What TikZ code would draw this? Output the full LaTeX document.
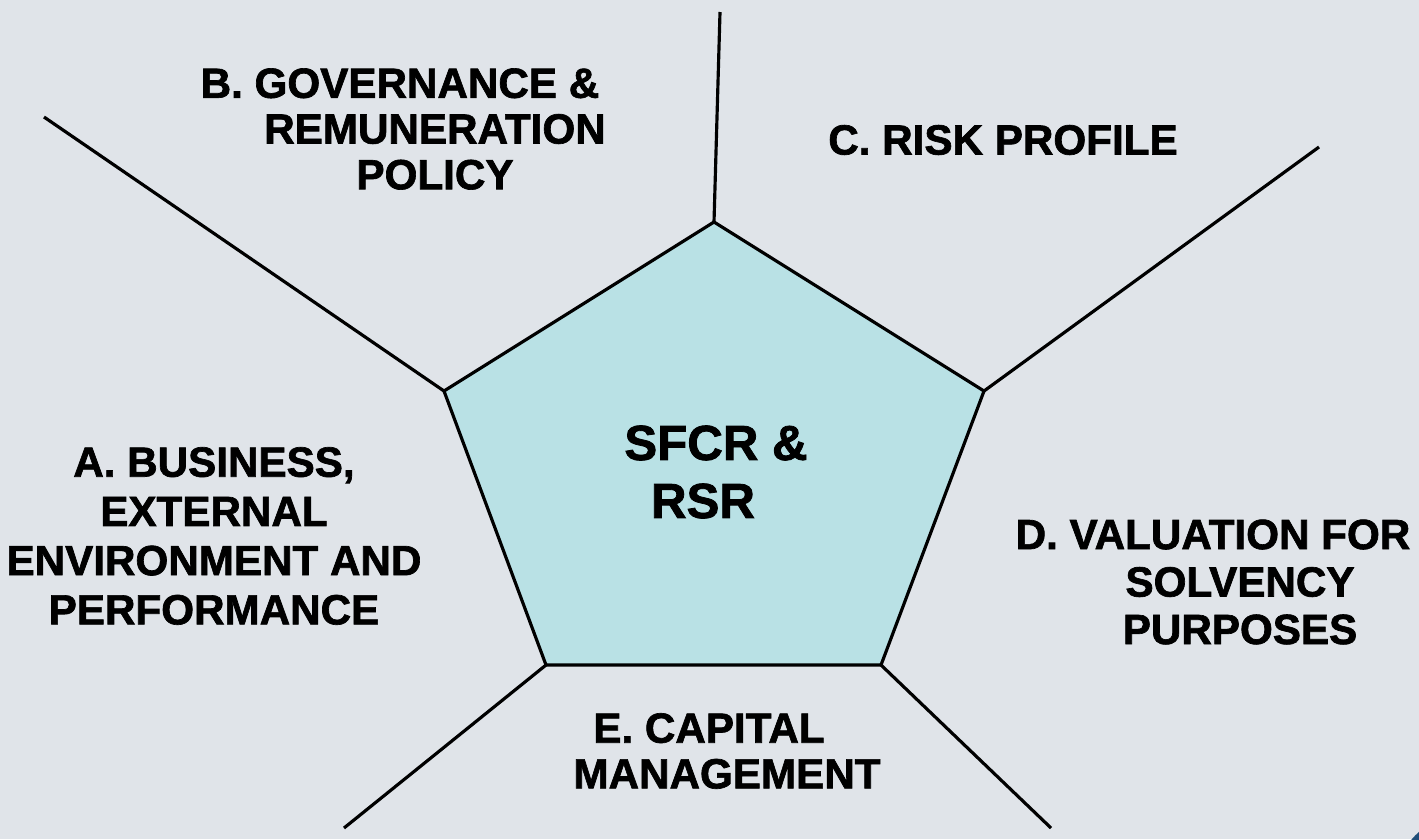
\documentclass[tikz,border=0pt]{standalone}
\usepackage{fontspec}
\setmainfont{Liberation Sans}[BoldFeatures={FakeBold=1.6}]
\usepackage{tikz}
\usetikzlibrary{positioning}

\definecolor{bgcol}{HTML}{E0E4E9}
\definecolor{pentcol}{HTML}{B9E1E5}
\definecolor{swoosh}{HTML}{1F4E79}

\begin{document}
\begin{tikzpicture}[x=0.01cm,y=-0.01cm,semithick]
\tikzstyle{section} = [align=center,inner sep=0pt,font=\bfseries\fontsize{12}{13.5}\selectfont]
\tikzstyle{spoke} = [draw=black,line width=0.9pt]
    \fill[bgcol] (0,0) rectangle (1419,839);
    \useasboundingbox (0,0) rectangle (1419,839);
    % corner swoosh
    \begin{scope}
    \clip (0,0) rectangle (1419,839);
    \fill[swoosh] (1462,882) circle (66);
    \end{scope}

    % pentagon corners and spoke ends
    \coordinate (p1) at (714,222);
    \coordinate (p2) at (984,391);
    \coordinate (p3) at (881,665);
    \coordinate (p4) at (546,665);
    \coordinate (p5) at (444,391);
    \coordinate (e1) at (720,12);
    \coordinate (e2) at (1319,147);
    \coordinate (e3) at (1051,828);
    \coordinate (e4) at (344,828);
    \coordinate (e5) at (44,117);

    \draw[spoke,fill=pentcol,line join=miter] (p1) -- (p2) -- (p3) -- (p4) -- (p5) -- cycle;
    \foreach \i in {1,...,5}
        \draw[spoke] (p\i) -- (e\i);

    \node[section,font=\bfseries\fontsize{14}{16.5}\selectfont] (sfcr) at (716,472) {SFCR \&\\RSR\hspace*{0.26cm}};
    \node[section,font=\bfseries\fontsize{12}{14}\selectfont] (secA) at (214,536) {A. BUSINESS,\\EXTERNAL\\ENVIRONMENT AND\\PERFORMANCE};
    \node[section,font=\bfseries\fontsize{12}{13}\selectfont] (secB) at (435,129) {B. GOVERNANCE \&\hspace*{0.7cm}\\REMUNERATION\\POLICY};
    \node[section] (secC) at (1003,140) {C. RISK PROFILE};
    \node[section] (secD) at (1240,582) {D. VALUATION FOR\hspace*{0.54cm}\\SOLVENCY\\PURPOSES};
    \node[section,font=\bfseries\fontsize{12}{13}\selectfont] (secE) at (727,751) {E. CAPITAL\hspace*{0.36cm}\\MANAGEMENT};
\end{tikzpicture}
\end{document}
